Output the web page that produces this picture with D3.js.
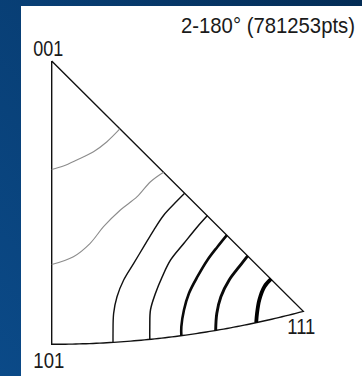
<!DOCTYPE html>
<html>
<head>
<meta charset="utf-8">
<script src="https://cdn.jsdelivr.net/npm/d3@7"></script>
<style>
  html, body { margin: 0; padding: 0; background: #0a4378; }
  svg { display: block; }
</style>
</head>
<body>
<svg id="chart" width="362" height="376"></svg>
<script>
// Standard-triangle poles in stereographic coordinates:
// b = distance toward 111 (horizontal), a = distance from 001 toward 101 (vertical)
const poleNames = ["001", "101", "111"];
const poleB = [0, 0, 0.366];
const poleA = [0, 0.4142, 0.366];

// Title of the plot
const titleText = "2-180\u00B0 (781253pts)";

// Contour levels, lowest to highest density
const contourLevels = [1, 2, 3, 4, 5, 6, 7];

// Contour traces, [b, a] pairs in stereographic coordinates
const contour1 = [[0.0991, 0.0994], [0.0804, 0.1180], [0.0608, 0.1326], [0.0365, 0.1447], [0.0170, 0.1535], [0, 0.1586]];
const contour2 = [[0.1627, 0.1626], [0.1437, 0.1765], [0.1243, 0.1984], [0.0999, 0.2178], [0.0754, 0.2423], [0.0560, 0.2665], [0.0316, 0.2861], [0, 0.2975]];
const contour3 = [[0.1934, 0.1934], [0.1800, 0.2070], [0.1632, 0.2251], [0.1485, 0.2471], [0.1339, 0.2715], [0.1193, 0.2958], [0.1047, 0.3202], [0.0950, 0.3446], [0.0901, 0.3689], [0.0892, 0.3981], [0.0892, 0.4114]];
const contour4 = [[0.2266, 0.2260], [0.2120, 0.2423], [0.1924, 0.2665], [0.1730, 0.2909], [0.1608, 0.3154], [0.1510, 0.3396], [0.1437, 0.3640], [0.1427, 0.3884], [0.1427, 0.4070]];
const contour5 = [[0.2548, 0.2545], [0.2412, 0.2715], [0.2266, 0.2909], [0.2120, 0.3154], [0.1997, 0.3396], [0.1924, 0.3640], [0.1886, 0.3884], [0.1886, 0.4016]];
const contour6 = [[0.2851, 0.2848], [0.2728, 0.3007], [0.2582, 0.3202], [0.2461, 0.3446], [0.2402, 0.3689], [0.2385, 0.3940]];
const contour7 = [[0.3192, 0.3187], [0.3094, 0.3300], [0.3020, 0.3494], [0.2987, 0.3689], [0.2975, 0.3826]];

const contours = [contour1, contour2, contour3, contour4, contour5, contour6, contour7];

const svg = d3.select("#chart");
const W = 362, H = 376;

// Blue backdrop with a soft diagonal gradient
const defs = svg.append("defs");
const grad = defs.append("linearGradient")
  .attr("id", "bg").attr("x1", 0).attr("y1", 1).attr("x2", 1).attr("y2", 0);
grad.append("stop").attr("offset", "0%").attr("stop-color", "#0b4a88");
grad.append("stop").attr("offset", "55%").attr("stop-color", "#083e74");
grad.append("stop").attr("offset", "100%").attr("stop-color", "#032c55");
svg.append("rect").attr("width", W).attr("height", H).attr("fill", "url(#bg)");

// White plotting panel
svg.append("rect")
  .attr("x", 21).attr("y", 6)
  .attr("width", W - 21).attr("height", H - 6)
  .attr("fill", "#ffffff");

// Scales from stereographic coordinates to pixels
const x = d3.scaleLinear().domain([0, 0.366]).range([51.7, 303.3]);
const y = d3.scaleLinear().domain([0, 0.4142]).range([61, 344.3]);

// Triangle outline: straight 001-101 and 001-111 edges, great-circle arc 101-111
const arcPts = d3.range(0, 0.3661, 0.005).map(b => [b, Math.sqrt(2 - b * b) - 1]);
arcPts[arcPts.length - 1] = [poleB[2], poleA[2]];
const outline = [[poleB[0], poleA[0]], [poleB[1], poleA[1]]].concat(arcPts).concat([[poleB[0], poleA[0]]]);

const lineGen = d3.line().x(d => x(d[0])).y(d => y(d[1]));

svg.append("path")
  .attr("d", lineGen(outline))
  .attr("fill", "none")
  .attr("stroke", "#111")
  .attr("stroke-width", 1.4)
  .attr("stroke-linejoin", "miter");

// Contour styling by level
const strokeColor = d3.scaleOrdinal().domain(contourLevels)
  .range(["#8c8c8c", "#8c8c8c", "#111", "#111", "#0a0a0a", "#0a0a0a", "#000"]);
const strokeWidth = d3.scaleOrdinal().domain(contourLevels)
  .range([1.1, 1.1, 1.4, 1.5, 2.6, 2.9, 3.8]);

const curveGen = d3.line()
  .x(d => x(d[0])).y(d => y(d[1]))
  .curve(d3.curveCatmullRom.alpha(0.5));

svg.append("g").selectAll("path")
  .data(contours)
  .join("path")
  .attr("d", d => curveGen(d))
  .attr("fill", "none")
  .attr("stroke", (d, i) => strokeColor(contourLevels[i]))
  .attr("stroke-width", (d, i) => strokeWidth(contourLevels[i]))
  .attr("stroke-linecap", "butt");

// Pole labels
const font = "'Liberation Sans', Arial, sans-serif";
const labelPos = [
  { dx: -18.4, dy: -5.5, len: 30 },
  { dx: -18.4, dy: 23.2, len: 31 },
  { dx: -16, dy: 22.2, len: 28 }
];
svg.append("g").selectAll("text")
  .data(poleNames)
  .join("text")
  .attr("x", (d, i) => x(poleB[i]) + labelPos[i].dx)
  .attr("y", (d, i) => y(poleA[i]) + labelPos[i].dy)
  .attr("textLength", (d, i) => labelPos[i].len)
  .attr("lengthAdjust", "spacingAndGlyphs")
  .attr("font-family", font)
  .attr("font-size", 22.5)
  .attr("fill", "#1a1a1a")
  .text(d => d);

// Title, slightly stretched vertically to keep its width inside the panel
svg.append("text")
  .attr("transform", "translate(181,32.5) scale(1,1.08)")
  .attr("x", 0)
  .attr("y", 0)
  .attr("textLength", 174)
  .attr("lengthAdjust", "spacingAndGlyphs")
  .attr("font-family", font)
  .attr("font-size", 20)
  .attr("fill", "#1a1a1a")
  .text(titleText);
</script>
</body>
</html>
